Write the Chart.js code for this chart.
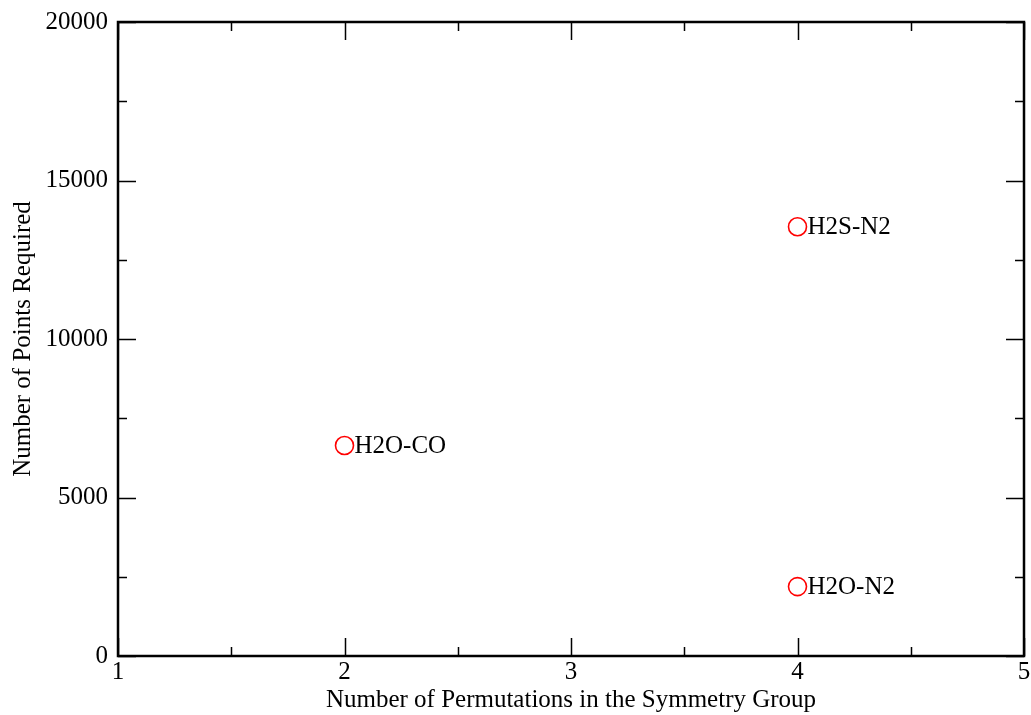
<!DOCTYPE html>
<html>
<head>
<meta charset="utf-8">
<script src="https://cdn.jsdelivr.net/npm/chart.js@4.4.1/dist/chart.umd.min.js"></script>
<style>
  html,body{margin:0;padding:0;background:#fff;}
  canvas{display:block;}
</style>
</head>
<body>
<canvas id="c" width="1031" height="715"></canvas>
<script>
// systems and their (permutations, points) values
const systems = ['H2O-CO', 'H2S-N2', 'H2O-N2'];
const permutations = [2, 4, 4];
const pointsRequired = [6640, 13540, 2190];

const xTicks = [1, 2, 3, 4, 5];
const yTicks = [0, 5000, 10000, 15000, 20000];
const xMinor = [1.5, 2.5, 3.5, 4.5];
const yMinor = [2500, 7500, 12500, 17500];

const FONT = '"Liberation Serif", "Times New Roman", serif';

// grace-style frame with inward ticks on all four sides, plus point labels
const frame = {
  id: 'frame',
  afterDraw(chart) {
    const ctx = chart.ctx, a = chart.chartArea;
    const xs = chart.scales.x, ys = chart.scales.y;
    const MAJ = 18, MIN = 9;
    ctx.save();
    ctx.strokeStyle = '#000';
    ctx.lineWidth = 1.5;
    ctx.beginPath();
    const tickX = (v, len) => {
      const px = Math.round(xs.getPixelForValue(v)) + 0.5;
      ctx.moveTo(px, a.bottom); ctx.lineTo(px, a.bottom - len);
      ctx.moveTo(px, a.top); ctx.lineTo(px, a.top + len);
    };
    const tickY = (v, len) => {
      const py = Math.round(ys.getPixelForValue(v)) + 0.5;
      ctx.moveTo(a.left, py); ctx.lineTo(a.left + len, py);
      ctx.moveTo(a.right, py); ctx.lineTo(a.right - len, py);
    };
    xTicks.forEach(v => tickX(v, MAJ));
    xMinor.forEach(v => tickX(v, MIN));
    yTicks.forEach(v => tickY(v, MAJ));
    yMinor.forEach(v => tickY(v, MIN));
    ctx.stroke();
    ctx.lineWidth = 2.5;
    ctx.strokeRect(a.left, a.top, a.right - a.left, a.bottom - a.top);

    ctx.fillStyle = '#000';
    ctx.font = '25px ' + FONT;
    ctx.textAlign = 'left';
    ctx.textBaseline = 'middle';
    systems.forEach((name, i) => {
      const px = xs.getPixelForValue(permutations[i]);
      const py = ys.getPixelForValue(pointsRequired[i]);
      ctx.fillText(name, px + 10, py + 1);
    });
    ctx.restore();
  }
};

const noPad = () => ({left: 0, right: 0, top: 0, bottom: 0});

new Chart(document.getElementById('c'), {
  type: 'scatter',
  data: {
    datasets: [{
      data: permutations.map((x, i) => ({x, y: pointsRequired[i]})),
      pointStyle: 'circle',
      pointRadius: 9,
      pointBorderWidth: 1.6,
      borderColor: '#ff0000',
      backgroundColor: 'rgba(0,0,0,0)',
      pointHoverRadius: 9
    }]
  },
  options: {
    responsive: false,
    animation: false,
    devicePixelRatio: 1,
    layout: {autoPadding: false, padding: {top: 22, right: 7, left: 0, bottom: 0}},
    plugins: {legend: {display: false}, tooltip: {enabled: false}},
    scales: {
      x: {
        type: 'linear', min: 1, max: 5,
        afterBuildTicks: s => { s.ticks = xTicks.map(v => ({value: v})); },
        afterFit: s => { s.height = 59; s.getPadding = noPad; },
        grid: {display: false, drawTicks: false},
        border: {display: false},
        ticks: {color: '#000', font: {family: FONT, size: 25}, padding: 1, maxRotation: 0,
                callback: v => String(v)},
        title: {display: true, text: 'Number of Permutations in the Symmetry Group',
                color: '#000', font: {family: FONT, size: 25}, padding: {top: -4, bottom: 0}}
      },
      y: {
        type: 'linear', min: 0, max: 20000,
        afterBuildTicks: s => { s.ticks = yTicks.map(v => ({value: v})); },
        afterFit: s => { s.width = 118; s.getPadding = noPad; },
        grid: {display: false, drawTicks: false},
        border: {display: false},
        ticks: {color: '#000', font: {family: FONT, size: 25}, padding: 10,
                callback: v => String(v)},
        title: {display: true, text: 'Number of Points Required',
                color: '#000', font: {family: FONT, size: 25}, padding: {top: 8, bottom: 0}}
      }
    }
  },
  plugins: [frame]
});
</script>
</body>
</html>
